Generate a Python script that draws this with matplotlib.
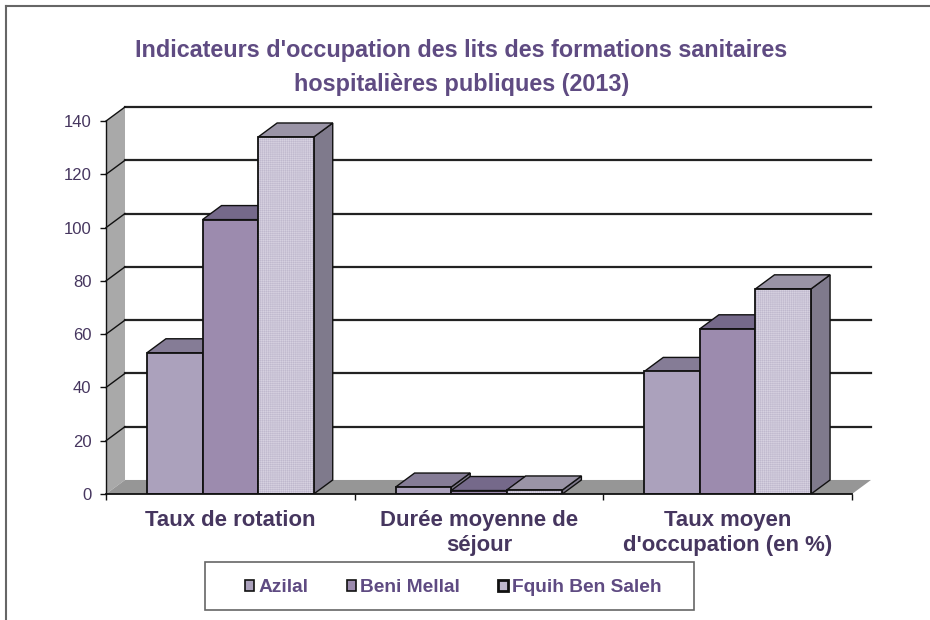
import matplotlib
matplotlib.use('Agg')
import numpy as np
import matplotlib.pyplot as plt
from matplotlib.lines import Line2D
from matplotlib.patches import Patch, Polygon, Rectangle

plt.rcParams['font.family'] = ['Liberation Sans', 'DejaVu Sans']
plt.rcParams['hatch.linewidth'] = 0.4

TITLE = "Indicateurs d'occupation des lits des formations sanitaires\nhospitalières publiques (2013)"
CATEGORIES = ['Taux de rotation', 'Durée moyenne de\nséjour', "Taux moyen\nd'occupation (en %)"]
SERIES = ['Azilal', 'Beni Mellal', 'Fquih Ben Saleh']
VALUES = [
    [53, 2.6, 46],
    [103, 1.3, 62],
    [134, 1.5, 77],
]
Y_TICKS = [0, 20, 40, 60, 80, 100, 120, 140]

FRONT = ['#ABA1BC', '#9C8BAE', '#BFB8CD']
HATCH = ['', '', '++++++++']
HATCH_COLOR = ['#ABA1BC', '#9C8BAE', '#D6D1E0']
LEGEND_EDGE = [1.2, 1.2, 2.0]
TOP = ['#857C96', '#75698A', '#9A94A6']
SIDE = '#7F7A8C'
WALL = '#A9A9A9'
FLOOR = '#969696'
FRAME = '#666666'
TITLE_COLOR = '#5F4B82'
LABEL_COLOR = '#46365F'

W, H = 930, 620
# axes box in pixels: category axis 106..852 plus depth up to 871
X0, X1, Y0, Y1 = 106, 871, 494, 107
PX_PER_CAT = (852 - 106) / 3
PX_PER_UNIT = (494 - 122) / 140
DX = 19 / PX_PER_CAT
DY = 14 / PX_PER_UNIT
BAR_W = 55.6 / PX_PER_CAT

fig = plt.figure(figsize=(W / 100, H / 100), dpi=100)
ax = fig.add_axes([X0 / W, 1 - Y0 / H, (X1 - X0) / W, (Y0 - Y1) / H])
ax.set_xlim(0, 3 + DX)
ax.set_ylim(0, 140 + DY)
for s in ax.spines.values():
    s.set_visible(False)
ax.patch.set_visible(False)

# side wall and floor
ax.add_patch(Polygon([(0, 0), (DX, DY), (DX, 140 + DY), (0, 140)], fc=WALL, ec='none', zorder=1))
ax.add_patch(Polygon([(0, 0), (3, 0), (3 + DX, DY), (DX, DY)], fc=FLOOR, ec='none', zorder=1))

# gridlines on the back wall and their slanted part on the side wall
for v in Y_TICKS[1:]:
    ax.plot([DX, 3 + DX], [v + DY, v + DY], color='#222222', lw=1.6, zorder=2, clip_on=False)
    ax.plot([0, DX], [v, v + DY], color='#111111', lw=1.0, zorder=2, clip_on=False)

# bars, drawn as boxes from back to front
for c in range(3):
    left = c + 0.5 - 1.5 * BAR_W
    for s in range(3):
        x = left + s * BAR_W
        v = VALUES[s][c]
        z = 3 + s
        ax.add_patch(Polygon([(x + BAR_W, 0), (x + BAR_W + DX, DY), (x + BAR_W + DX, v + DY), (x + BAR_W, v)],
                             fc=SIDE, ec='#111111', lw=1.0, zorder=z))
        ax.add_patch(Polygon([(x, v), (x + DX, v + DY), (x + BAR_W + DX, v + DY), (x + BAR_W, v)],
                             fc=TOP[s], ec='#111111', lw=1.0, zorder=z))
        ax.add_patch(Rectangle((x, 0), BAR_W, v, fc=FRONT[s], ec=HATCH_COLOR[s], hatch=HATCH[s], lw=0, zorder=z))
        ax.add_patch(Rectangle((x, 0), BAR_W, v, fc='none', ec='#111111', lw=1.3, zorder=z))

# axis lines and ticks
ax.plot([0, 3], [0, 0], color='#111111', lw=1.3, zorder=8, clip_on=False)
ax.plot([0, 0], [0, 140], color='#111111', lw=1.0, zorder=8, clip_on=False)
ax.set_yticks(Y_TICKS)
ax.set_yticklabels([str(v) for v in Y_TICKS], fontsize=12, color=LABEL_COLOR)
ax.set_xticks([0, 1, 2, 3])
ax.set_xticklabels([])
ax.tick_params(axis='y', length=4.5, width=1, color='#111111', pad=6)
ax.tick_params(axis='x', length=4, width=1, color='#111111', direction='out')

for c, label in enumerate(CATEGORIES):
    ax.annotate(label, (c + 0.5, 0), xytext=(0, -11.5), textcoords='offset points',
                ha='center', va='top', fontsize=15.9, fontweight='bold', color=LABEL_COLOR, linespacing=1.24)

fig.text((135 + 788) / 2 / W, 1 - 39 / H, TITLE, ha='center', va='top', fontsize=16.8, fontweight='bold',
         color=TITLE_COLOR, linespacing=1.6)

# outer frame: only the top and left edges show
fig.add_artist(Line2D([6 / W, 1], [1 - 6 / H, 1 - 6 / H], color=FRAME, lw=1.5))
fig.add_artist(Line2D([6 / W, 6 / W], [0, 1 - 6 / H], color=FRAME, lw=1.5))

# legend box drawn apart so its padding can differ by direction
fig.add_artist(Rectangle((205 / W, 1 - 610 / H), 489 / W, 48 / H, fc='white', ec=FRAME, lw=1.2, zorder=5))
handles = [Patch(fc=FRONT[i], ec='#111111', lw=LEGEND_EDGE[i]) for i in range(3)]
leg = fig.legend(handles, SERIES, ncols=3, loc='center', bbox_to_anchor=(453 / W, 1 - 587.5 / H),
                 frameon=False, prop={'size': 13.8, 'weight': 'bold'}, labelcolor=TITLE_COLOR,
                 handlelength=0.5, handleheight=0.5, handletextpad=0.2, columnspacing=2.0,
                 borderpad=0, borderaxespad=0)
leg.set_zorder(6)

fig.savefig('out.png', dpi=100)
